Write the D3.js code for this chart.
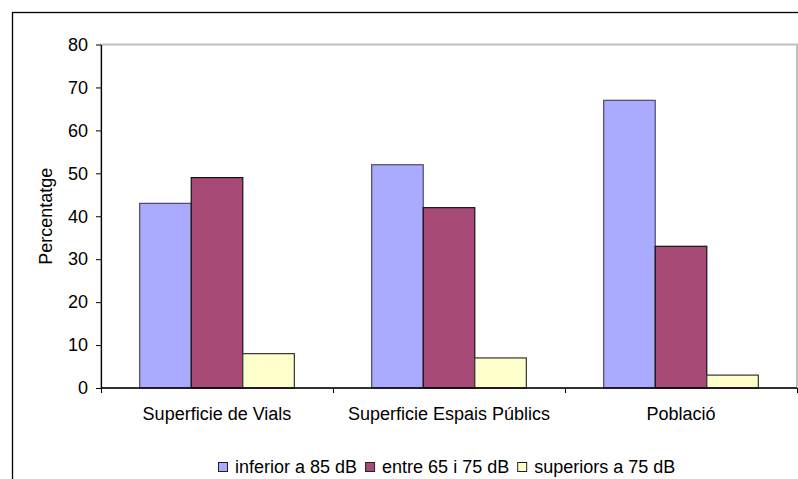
<!DOCTYPE html>
<html>
<head>
<meta charset="utf-8">
<script src="https://cdn.jsdelivr.net/npm/d3@7"></script>
<style>
  html, body { margin: 0; padding: 0; background: #fff; }
  svg { display: block; font-family: "Liberation Sans", Arial, sans-serif; }
</style>
</head>
<body>
<svg id="chart" width="798" height="479"></svg>
<script>
// Noise exposure shares by area type
const categories = ["Superficie de Vials", "Superficie Espais Públics", "Població"];
const seriesNames = ["inferior a 85 dB", "entre 65 i 75 dB", "superiors a 75 dB"];
const inferior85 = [43, 52, 67];
const entre65i75 = [49, 42, 33];
const superiors75 = [8, 7, 3];
const yTicks = [0, 10, 20, 30, 40, 50, 60, 70, 80];

const seriesValues = [inferior85, entre65i75, superiors75];
const fills = ["#AAAAFF", "#A84A76", "#FFFFCC"];
const strokes = ["#4a4a6e", "#111", "#333"];

const svg = d3.select("#chart");
const W = 798, H = 479;
const plot = { left: 101, right: 797, top: 44.5, bottom: 388 };
const fontSize = 18;

// outer chart frame (runs off the right and bottom edges)
svg.append("rect")
  .attr("x", 12.5).attr("y", 12.5)
  .attr("width", W).attr("height", H)
  .attr("fill", "none").attr("stroke", "#000").attr("stroke-width", 1.3);

const x = d3.scaleBand().domain(categories).range([plot.left, plot.right]).padding(0);
const xInner = d3.scaleBand().domain(d3.range(seriesNames.length))
  .range([0, x.bandwidth()]).paddingInner(0).paddingOuter(0.75);
const y = d3.scaleLinear().domain([0, 80]).range([plot.bottom, plot.top]);

// plot area border
svg.append("rect")
  .attr("x", plot.left).attr("y", plot.top)
  .attr("width", plot.right - plot.left).attr("height", plot.bottom - plot.top)
  .attr("fill", "none").attr("stroke", "#c0c0c0").attr("stroke-width", 2);

// bars
const rows = [];
categories.forEach((c, ci) => seriesValues.forEach((vals, si) => rows.push({ c, si, v: vals[ci] })));
svg.append("g").selectAll("rect").data(rows).join("rect")
  .attr("x", d => x(d.c) + xInner(d.si))
  .attr("y", d => y(d.v))
  .attr("width", xInner.bandwidth())
  .attr("height", d => y(0) - y(d.v))
  .attr("fill", d => fills[d.si])
  .attr("stroke", d => strokes[d.si])
  .attr("stroke-width", 1.2);

// y axis
const yAxis = svg.append("g")
  .attr("transform", `translate(${plot.left},0)`)
  .call(d3.axisLeft(y).tickValues(yTicks).tickSize(5).tickPadding(8).tickSizeOuter(0));
yAxis.select(".domain").attr("stroke", "#000").attr("stroke-width", 1.2);
yAxis.selectAll(".tick line").attr("stroke", "#000");
yAxis.selectAll("text").attr("font-size", fontSize).attr("font-family", "Liberation Sans, Arial, sans-serif").attr("fill", "#000");

// x axis: ticks sit on category boundaries
const boundaries = categories.map(c => x(c)).concat([plot.right]);
const xAxis = svg.append("g").attr("transform", `translate(0,${plot.bottom})`);
xAxis.append("line")
  .attr("x1", plot.left).attr("x2", plot.right)
  .attr("stroke", "#000").attr("stroke-width", 1.5);
xAxis.selectAll("line.tick").data(boundaries).join("line")
  .attr("class", "tick")
  .attr("x1", d => Math.round(d) + 0.5).attr("x2", d => Math.round(d) + 0.5)
  .attr("y1", 0).attr("y2", 5)
  .attr("stroke", "#000");
xAxis.selectAll("text").data(categories).join("text")
  .attr("x", d => x(d) + x.bandwidth() / 2)
  .attr("y", 32)
  .attr("text-anchor", "middle")
  .attr("font-size", fontSize)
  .attr("fill", "#000")
  .text(d => d);

// y axis title
svg.append("text")
  .attr("transform", `translate(51.5,${(plot.top + plot.bottom) / 2}) rotate(-90)`)
  .attr("text-anchor", "middle")
  .attr("font-size", fontSize)
  .attr("fill", "#000")
  .text("Percentatge");

// legend
const legend = svg.append("g").attr("transform", "translate(218,473)");
let lx = 0;
seriesNames.forEach((name, i) => {
  legend.append("rect")
    .attr("x", lx + 0.5).attr("y", -10.5)
    .attr("width", 9).attr("height", 9)
    .attr("fill", fills[i]).attr("stroke", "#222").attr("stroke-width", 1);
  const t = legend.append("text")
    .attr("x", lx + 17).attr("y", 0)
    .attr("font-size", fontSize).attr("fill", "#000")
    .text(name);
  lx += 17 + t.node().getComputedTextLength() + 8;
});
</script>
</body>
</html>
